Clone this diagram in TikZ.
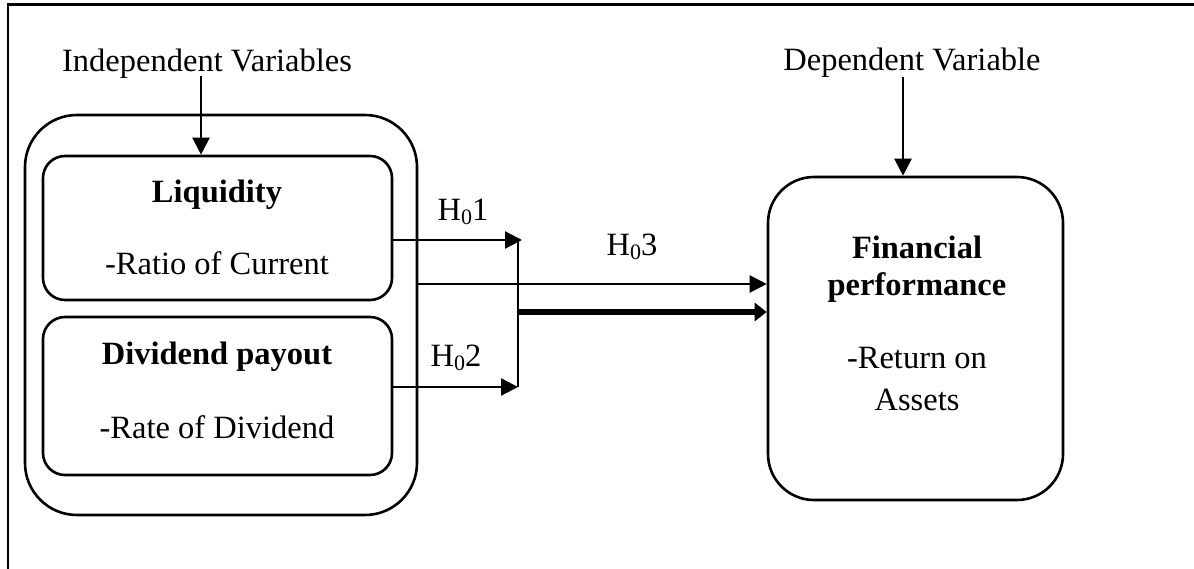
\documentclass[tikz,border=0pt]{standalone}
\usepackage{fontspec}
\setmainfont{Liberation Serif}
\usetikzlibrary{arrows.meta}
\begin{document}
\begin{tikzpicture}[x=1pt,y=-1pt,
  box/.style={draw,line width=2.6pt,inner sep=0pt},
  txt/.style={inner sep=0pt,font=\fontsize{32.5}{38}\selectfont},
  btxt/.style={inner sep=0pt,font=\fontsize{32.5}{38}\selectfont\bfseries},
  arr/.style={line width=2.3pt,-{Triangle[length=17pt,width=17pt]}},
  thickarr/.style={line width=5.5pt,-{Triangle[length=12pt,width=18pt]}}]
\useasboundingbox (0,0) rectangle (1194,569);
% frame
\draw[line width=3pt] (8,5) -- (1194,5);
\draw[line width=1.5pt] (8,3.5) -- (8,569);
% boxes
\node[box,rounded corners=52pt,minimum width=392pt,minimum height=400pt] (outer) at (221,315) {};
\node[box,rounded corners=22pt,minimum width=349pt,minimum height=144pt] (liq) at (217.5,228) {};
\node[box,rounded corners=22pt,minimum width=349pt,minimum height=158pt] (div) at (217.5,396) {};
\node[box,rounded corners=46pt,minimum width=295pt,minimum height=323pt] (fin) at (915.5,338.5) {};
% texts
\node[txt] (indep) at (207,64) {Independent Variables};
\node[txt] (dep) at (912,63) {Dependent Variable};
\node[btxt] (liqt) at (217,195) {Liquidity};
\node[txt] (liqs) at (217,263) {-Ratio of Current};
\node[btxt] (divt) at (217,357) {Dividend payout};
\node[txt] (divs) at (217,427) {-Rate of Dividend};
\node[btxt] (fint1) at (917,247) {Financial};
\node[btxt] (fint2) at (917,288) {performance};
\node[txt] (fins1) at (917,358) {-Return on};
\node[txt] (fins2) at (917,400) {Assets};
\node[txt] (h1) at (463,212) {H\raisebox{-0.12em}{\fontsize{22}{24}\selectfont 0}1};
\node[txt] (h3) at (632,247) {H\raisebox{-0.12em}{\fontsize{22}{24}\selectfont 0}3};
\node[txt] (h2) at (456,358) {H\raisebox{-0.12em}{\fontsize{22}{24}\selectfont 0}2};
% connectors
\coordinate (a1) at (201,76);
\draw[arr] (a1) -- (a1 |- liq.north);
\coordinate (a2) at (903,77);
\draw[arr] (a2) -- (a2 |- fin.north);
\coordinate (h1end) at (522,240);
\draw[arr] (liq.east |- h1end) -- (h1end);
\coordinate (h2end) at (518,387);
\draw[arr] (div.east |- h2end) -- (h2end);
\coordinate (vtop) at (518,240);
\draw[line width=1.2pt] (vtop) -- (h2end);
\coordinate (h3y) at (0,284);
\draw[arr] (outer.east |- h3y) -- (fin.west |- h3y);
\coordinate (tk) at (518,312);
\draw[thickarr] (tk) -- (fin.west |- tk);
\end{tikzpicture}
\end{document}
